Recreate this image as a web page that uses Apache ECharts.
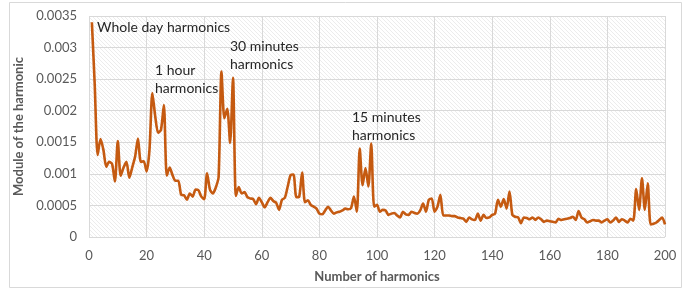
<!DOCTYPE html>
<html>
<head>
<meta charset="utf-8">
<script src="https://cdn.jsdelivr.net/npm/echarts@6/dist/echarts.min.js"></script>
<style>
  html, body { margin: 0; padding: 0; background: #fff; }
  #chart { width: 699px; height: 291px; }
</style>
</head>
<body>
<div id="chart"></div>
<script>
// module of each harmonic, harmonics 1..200
const moduleValues = [
  0.00340, 0.00240, 0.00130, 0.00155, 0.00138, 0.00111, 0.00119, 0.00116, 0.00088, 0.00152,
  0.00097, 0.00110, 0.00119, 0.00094, 0.00110, 0.00127, 0.00156, 0.00119, 0.00120, 0.00104,
  0.00138, 0.00228, 0.00191, 0.00165, 0.00170, 0.00209, 0.00097, 0.00110, 0.00098, 0.00089,
  0.00089, 0.00067, 0.00066, 0.00059, 0.00069, 0.00064, 0.00075, 0.00074, 0.00064, 0.00060,
  0.00101, 0.00075, 0.00069, 0.00078, 0.00095, 0.00262, 0.00188, 0.00203, 0.00149, 0.00252,
  0.00065, 0.00079, 0.00069, 0.00071, 0.00063, 0.00061, 0.00060, 0.00052, 0.00062, 0.00055,
  0.00047, 0.00055, 0.00062, 0.00057, 0.00054, 0.00043, 0.00059, 0.00062, 0.00080, 0.00098,
  0.00099, 0.00063, 0.00064, 0.00102, 0.00055, 0.00058, 0.00051, 0.00048, 0.00045, 0.00037,
  0.00036, 0.00042, 0.00048, 0.00042, 0.00037, 0.00039, 0.00040, 0.00042, 0.00045, 0.00044,
  0.00046, 0.00064, 0.00040, 0.00140, 0.00082, 0.00109, 0.00080, 0.00148, 0.00048, 0.00051,
  0.00040, 0.00043, 0.00042, 0.00035, 0.00037, 0.00038, 0.00034, 0.00031, 0.00040, 0.00036,
  0.00035, 0.00040, 0.00038, 0.00037, 0.00042, 0.00053, 0.00040, 0.00059, 0.00061, 0.00040,
  0.00048, 0.00067, 0.00034, 0.00034, 0.00034, 0.00033, 0.00033, 0.00031, 0.00030, 0.00029,
  0.00024, 0.00031, 0.00028, 0.00027, 0.00037, 0.00026, 0.00035, 0.00030, 0.00031, 0.00035,
  0.00037, 0.00059, 0.00048, 0.00060, 0.00045, 0.00072, 0.00035, 0.00032, 0.00031, 0.00022,
  0.00031, 0.00030, 0.00028, 0.00031, 0.00027, 0.00031, 0.00028, 0.00024, 0.00026, 0.00025,
  0.00024, 0.00023, 0.00029, 0.00027, 0.00028, 0.00029, 0.00030, 0.00032, 0.00027, 0.00041,
  0.00031, 0.00028, 0.00023, 0.00025, 0.00027, 0.00026, 0.00026, 0.00023, 0.00026, 0.00028,
  0.00023, 0.00026, 0.00031, 0.00024, 0.00028, 0.00026, 0.00023, 0.00029, 0.00026, 0.00076,
  0.00043, 0.00093, 0.00043, 0.00085, 0.00020, 0.00021, 0.00023, 0.00027, 0.00031, 0.00020
];
const harmonics = moduleValues.map((v, i) => i + 1);

const xTicks = { min: 0, max: 200, step: 20 };
const yTicks = { min: 0, max: 0.0035, step: 0.0005 };

// labels put over the peaks
const notes = [
  { lines: ['Whole day harmonics'], left: 97, top: 18 },
  { lines: ['1 hour', 'harmonics'], left: 155, top: 61 },
  { lines: ['30 minutes', 'harmonics'], left: 230, top: 37 },
  { lines: ['15 minutes', 'harmonics'], left: 352, top: 108 }
];

// light diagonal hatch for the plot area, like the original
function hatch() {
  const c = document.createElement('canvas');
  c.width = 4; c.height = 4;
  const g = c.getContext('2d');
  g.fillStyle = '#ffffff';
  g.fillRect(0, 0, 4, 4);
  g.strokeStyle = '#ececec';
  g.lineWidth = 1;
  g.beginPath();
  g.moveTo(-1, -1); g.lineTo(5, 5);
  g.moveTo(-1, 3); g.lineTo(1, 5);
  g.moveTo(3, -1); g.lineTo(5, 1);
  g.stroke();
  return c;
}

const font = 'Lato, "Open Sans", sans-serif';
const myChart = echarts.init(document.getElementById('chart'), null, { renderer: 'canvas' });

myChart.setOption({
  animation: false,
  backgroundColor: '#ffffff',
  grid: {
    left: 89, right: 34, top: 16, bottom: 54,
    show: true,
    borderWidth: 0,
    backgroundColor: { image: hatch(), repeat: 'repeat' }
  },
  xAxis: {
    type: 'value',
    min: xTicks.min, max: xTicks.max, interval: xTicks.step,
    name: 'Number of harmonics',
    nameLocation: 'middle',
    nameGap: 33,
    nameTextStyle: { color: '#595959', fontWeight: 'bold', fontSize: 13, fontFamily: font },
    axisLine: { show: false },
    axisTick: { show: false },
    axisLabel: { color: '#595959', fontSize: 13, margin: 12, fontFamily: font },
    splitLine: { show: true, lineStyle: { color: '#d9d9d9', width: 1 } }
  },
  yAxis: {
    type: 'value',
    min: yTicks.min, max: yTicks.max, interval: yTicks.step,
    name: 'Module of the harmonic',
    nameLocation: 'middle',
    nameGap: 62,
    nameTextStyle: { color: '#595959', fontWeight: 'bold', fontSize: 13, fontFamily: font },
    axisLine: { show: false },
    axisTick: { show: false },
    axisLabel: { color: '#595959', fontSize: 13, margin: 12, fontFamily: font },
    splitLine: { show: true, lineStyle: { color: '#d9d9d9', width: 1 } }
  },
  series: [{
    type: 'line',
    data: harmonics.map((h, i) => [h, moduleValues[i]]),
    showSymbol: false,
    smooth: 0.25,
    lineStyle: { color: '#c55a11', width: 2.6 },
    itemStyle: { color: '#c55a11' }
  }],
  graphic: [
    {
      type: 'rect',
      shape: { x: 9.5, y: 2.5, width: 672, height: 285 },
      style: { fill: 'none', stroke: '#d9d9d9', lineWidth: 1 },
      silent: true
    }
  ].concat(notes.map(n => ({
    type: 'text',
    left: n.left,
    top: n.top,
    z: 10,
    style: {
      text: n.lines.join('\n'),
      fill: '#262626',
      font: '14px ' + font,
      lineHeight: 18
    }
  })))
});
</script>
</body>
</html>
